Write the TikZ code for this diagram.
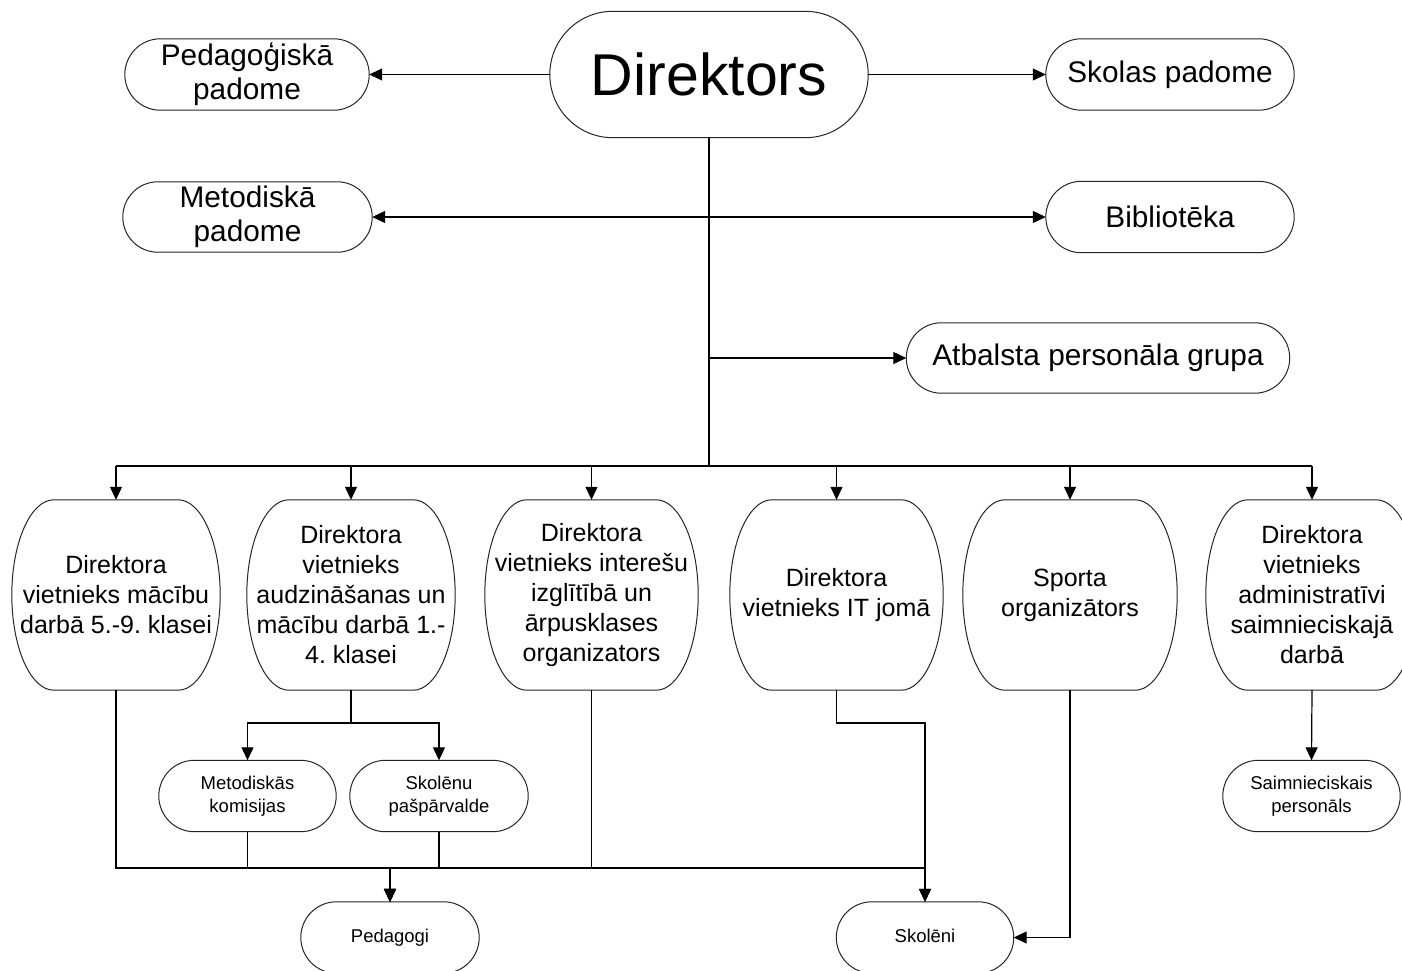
\documentclass[tikz,border=0pt]{standalone}
\usepackage{fontspec}
\setmainfont{Liberation Sans}
\usetikzlibrary{arrows.meta,calc}
\frenchspacing
\newcommand\termshape[2]{%
  \draw[boxline] let \p1=(#1.north west), \p2=(#1.south east) in
    (\x1+#2*1pt,\y1) -- (\x2-#2*1pt,\y1)
    arc[start angle=90,end angle=-90,x radius=#2*1pt,y radius={0.5*(\y1-\y2)}]
    -- (\x1+#2*1pt,\y2)
    arc[start angle=270,end angle=90,x radius=#2*1pt,y radius={0.5*(\y1-\y2)}]
    -- cycle;}
\begin{document}
\begin{tikzpicture}[x=1pt,y=1pt,
  tbox/.style={rectangle,draw=none,inner sep=0pt,align=center},
  txtbig/.style={font=\fontsize{59}{70}\selectfont},
  txtmid/.style={font=\fontsize{29.8}{34}\selectfont},
  txttall/.style={font=\fontsize{25}{30}\selectfont},
  txtsmall/.style={font=\fontsize{18.5}{23}\selectfont},
  boxline/.style={draw=black!85,line width=1pt},
  conn/.style={draw=black,line width=1.2pt},
  arr/.style={conn,-{Triangle[length=13pt,width=12pt]}},
  darr/.style={conn,{Triangle[length=13pt,width=12pt]}-{Triangle[length=13pt,width=12pt]}}]
\useasboundingbox (0,0) rectangle (1402,-970);
\clip (0,0) rectangle (1402,-970);
\fill[white] (0,0) rectangle (1402,-970);

% top area
\node[tbox,minimum width=318pt,minimum height=126pt,txtbig] (dir) at (709,-74.5) {Direktors};
\node[tbox,minimum width=244pt,minimum height=71pt,txtmid] (ped) at (247,-74.5) {Pedagoģiskā\\padome};
\node[tbox,minimum width=248pt,minimum height=71pt,txtmid] (sp) at (1170,-74.5) {Skolas padome};
\node[tbox,minimum width=249pt,minimum height=70pt,txtmid] (met) at (247.5,-217) {Metodiskā\\padome};
\node[tbox,minimum width=248pt,minimum height=71pt,txtmid] (bib) at (1170,-217) {Bibliotēka};
\node[tbox,minimum width=383pt,minimum height=70pt,txtmid] (atb) at (1098,-358) {Atbalsta personāla grupa};

% deputies
\node[tbox,minimum width=208pt,minimum height=190pt,txttall] (v1) at (116,-595) {Direktora\\vietnieks mācību\\darbā 5.-9. klasei};
\node[tbox,minimum width=208pt,minimum height=190pt,txttall] (v2) at (351,-595) {Direktora\\vietnieks\\audzināšanas un\\mācību darbā 1.-\\4. klasei};
\node[tbox,minimum width=213pt,minimum height=190pt,txttall] (v3) at (591.5,-595) {Direktora\\vietnieks interešu\\izglītībā un\\ārpusklases\\organizators};
\node[tbox,minimum width=213pt,minimum height=190pt,txttall] (v4) at (836.5,-595) {Direktora\\vietnieks IT jomā};
\node[tbox,minimum width=214pt,minimum height=190pt,txttall] (v5) at (1070,-595) {Sporta\\organizātors};
\node[tbox,minimum width=212pt,minimum height=190pt,txttall] (v6) at (1312,-595) {Direktora\\vietnieks\\administratīvi\\saimnieciskajā\\darbā};

% lower
\node[tbox,minimum width=177pt,minimum height=71pt,txtsmall] (mk) at (247.5,-796) {Metodiskās\\komisijas};
\node[tbox,minimum width=178pt,minimum height=71pt,txtsmall] (spv) at (439,-796) {Skolēnu\\pašpārvalde};
\node[tbox,minimum width=177pt,minimum height=71pt,txtsmall] (sai) at (1311.5,-796) {Saimnieciskais\\personāls};
\node[tbox,minimum width=178pt,minimum height=71pt,txtsmall] (pedg) at (390,-937.5) {Pedagogi};
\node[tbox,minimum width=177pt,minimum height=71pt,txtsmall,text height=13pt,text depth=4pt] (skol) at (925,-937.5) {Skolēni};

% outlines
\foreach \bn/\br in {dir/63,ped/35.5,sp/35.5,met/35,bib/35.5,atb/35,
  v1/42,v2/42,v3/42,v4/42,v5/42,v6/42,
  mk/35.5,spv/35.5,sai/35.5,pedg/35.5,skol/35.5}{\termshape{\bn}{\br}}

% helper levels
\coordinate (bus) at (0,-466);
\coordinate (sb) at (0,-723);
\coordinate (bb) at (0,-868);

% top connectors
\draw[arr] (dir.west) -- (ped.east);
\draw[arr] (dir.east) -- (sp.west);
\draw[darr] (met.east) -- (bib.west);
\draw[conn] (dir.south) -- (dir.south |- bus);
\draw[arr] (dir.south |- atb.west) -- (atb.west);
\draw[conn] (v1.north |- bus) -- (v6.north |- bus);
\foreach \v in {v1,v2,v3,v4,v5,v6}{\draw[arr] (\v.north |- bus) -- (\v.north);}

% lower connectors
\draw[conn] (v2.south) -- (v2.south |- sb);
\draw[arr] (v2.south |- sb) -| (mk.north);
\draw[arr] (v2.south |- sb) -| (spv.north);
\draw[arr] (v1.south) -- (v1.south |- bb) -| (pedg.north);
\draw[arr] (mk.south) -- (mk.south |- bb) -| (pedg.north);
\draw[arr] (spv.south) -- (spv.south |- bb) -| (pedg.north);
\draw[arr] (v3.south) -- (v3.south |- bb) -| (pedg.north);
\draw[arr] (v3.south) -- (v3.south |- bb) -| (skol.north);
\draw[arr] (v4.south) -- (v4.south |- sb) -| (skol.north);
\draw[arr] (v5.south) |- (skol.east);
\draw[arr] (v6.south) -- (sai.north);
\end{tikzpicture}
\end{document}
